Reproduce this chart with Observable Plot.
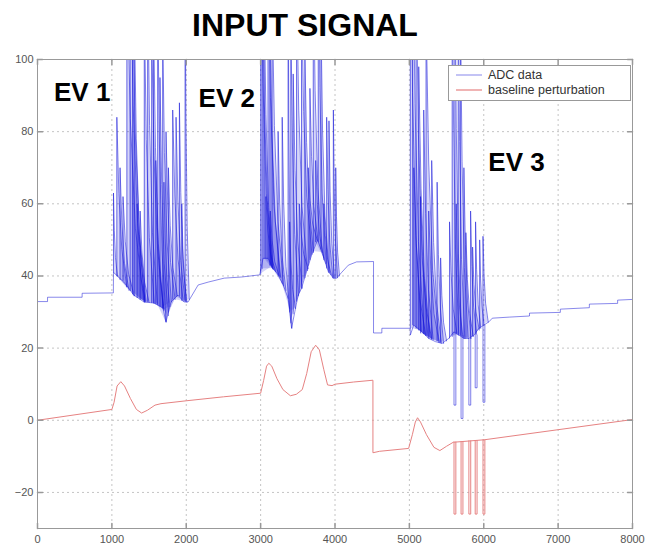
<!DOCTYPE html>
<html><head><meta charset="utf-8">
<script src="https://cdn.jsdelivr.net/npm/d3@7"></script>
<script src="https://cdn.jsdelivr.net/npm/@observablehq/plot@0.6"></script>
<style>body{margin:0;background:#fff} svg{display:block}</style>
</head><body><div id="chart"></div>
<script>
// ---- data ----
const xTicks = [0, 1000, 2000, 3000, 4000, 5000, 6000, 7000, 8000];
const yTicks = [-20, 0, 20, 40, 60, 80, 100];

// ADC data: slow baseline / lower envelope [x, y]
const adcBase = [
  [0, 32.9], [135, 32.9], [135, 34.1], [600, 34.1], [600, 35.2], [1020, 35.3],
  [1022, 41], [1161, 38.3], [1296, 34.7], [1431, 32.8], [1565, 32.5], [1687, 31.1],
  [1727, 27.2], [1795, 32.8], [1889, 34.7], [1970, 32.8], [2025, 32.8], [2160, 37.5],
  [2295, 38.3], [2511, 39.4], [2740, 39.7], [2988, 40.3], [3033, 44.9], [3100, 44.9],
  [3168, 42.1], [3235, 40.3], [3303, 37.5], [3370, 33.8], [3416, 25.5], [3460, 30.1],
  [3505, 34.7], [3550, 36.6], [3618, 41.2], [3685, 45.8], [3766, 50], [3820, 46.8],
  [3865, 44], [3910, 41.2], [3978, 39.4], [4023, 39.4], [4090, 41], [4180, 43],
  [4290, 43.9], [4518, 44], [4518, 24.2], [4630, 24.2], [4630, 25.5], [5012, 25.5],
  [5013, 23.6], [5058, 26.4], [5170, 24.5], [5260, 22.7], [5350, 21.8], [5440, 21.3],
  [5530, 22.7], [5598, 24.5], [5665, 23.6], [5733, 22.7], [5800, 22.7], [5868, 23.6],
  [5935, 25.5], [6003, 26.4], [6070, 27.3], [6115, 28.3], [6350, 28.6], [6615, 28.9],
  [6615, 29.7], [7030, 29.9], [7030, 30.8], [7420, 31.2], [7420, 32.2], [7800, 32.4],
  [7800, 33.3], [8000, 33.5]
];

// ADC pulses: [start x, level before, peak, end x, level after]
const ev1Spikes = [
  [1022, 41, 63, 1075, 40], [1067, 40, 84, 1200, 37], [1110, 39, 70, 1230, 36],
  [1150, 38.8, 62, 1300, 34.5], [1202, 37, 125, 1430, 33], [1246, 36, 132, 1445, 32.8],
  [1278, 35, 118, 1460, 32.8], [1300, 34.5, 115, 1440, 32.8], [1340, 34, 60, 1450, 33],
  [1380, 33.5, 58, 1500, 32.7], [1436, 32.8, 115, 1570, 32.5], [1481, 32.8, 122, 1610, 32.4],
  [1535, 32.6, 108, 1690, 31.1], [1560, 32.5, 112, 1690, 31.1], [1590, 32.3, 72, 1700, 30.8],
  [1616, 32, 118, 1730, 27.2], [1647, 31.6, 95, 1760, 29], [1683, 31.2, 108, 1800, 32.8],
  [1700, 30.5, 66, 1780, 31.5], [1728, 27.5, 80, 1850, 33.5], [1760, 30, 70, 1880, 34.5],
  [1818, 33.5, 86, 1960, 33], [1863, 34.2, 84, 1985, 33], [1908, 34.5, 88, 2000, 32.8],
  [1940, 33.2, 60, 2010, 32.8], [1985, 33, 125, 2040, 33.5]
];
const ev2Spikes = [
  [3001, 40.5, 135, 3150, 42.5], [3020, 42, 128, 3160, 42], [3046, 44.9, 120, 3170, 41.8],
  [3070, 44.9, 62, 3200, 41.3], [3100, 44.9, 130, 3260, 39.8], [3125, 43, 110, 3270, 39.5],
  [3130, 43, 58, 3250, 40], [3154, 42.3, 118, 3310, 37.3], [3235, 40.3, 80, 3340, 36],
  [3290, 38, 84, 3390, 31], [3370, 33.8, 125, 3420, 25.5], [3390, 30, 55, 3470, 31],
  [3406, 27, 112, 3510, 34.5], [3438, 29.5, 96, 3560, 36.6], [3483, 33, 122, 3630, 41.5],
  [3520, 35.5, 60, 3640, 42], [3550, 36.6, 118, 3690, 46], [3595, 39.5, 102, 3710, 46.5],
  [3640, 43, 70, 3760, 50], [3663, 44.5, 92, 3770, 50], [3708, 46.8, 128, 3830, 46.5],
  [3740, 49.5, 72, 3850, 45], [3775, 49.5, 132, 3880, 43.5], [3811, 47.5, 112, 3920, 41],
  [3850, 44.5, 60, 3950, 40.3], [3888, 42.2, 84, 3970, 39.5], [3919, 41, 83, 3995, 39.4],
  [3978, 39.4, 86, 4035, 39.5], [4010, 39.4, 70, 4060, 40]
];
const ev3Spikes = [
  [5013, 25.5, 145, 5160, 24.8], [5044, 26.4, 140, 5200, 24], [5060, 26.4, 70, 5220, 23.5],
  [5090, 25.5, 125, 5250, 23], [5126, 25, 98, 5280, 22.8], [5150, 24.2, 62, 5300, 22.5],
  [5193, 24, 86, 5320, 22.3], [5225, 23.5, 112, 5400, 21.6], [5260, 22.7, 58, 5400, 21.6],
  [5300, 22.5, 72, 5430, 21.4], [5373, 22, 66, 5460, 21.3], [5420, 21.5, 45, 5500, 22],
  [5540, 22.8, 55, 5640, 24], [5576, 23.2, 132, 5665, 23.6], [5612, 24.5, 128, 5705, 23.3],
  [5630, 24.2, 60, 5720, 23], [5657, 23.7, 122, 5745, 22.7], [5688, 23.5, 112, 5790, 22.7],
  [5733, 22.7, 70, 5830, 22.7], [5760, 22.7, 52, 5860, 23.2], [5823, 22.7, 58, 5905, 23.8],
  [5850, 23.4, 48, 5940, 25], [5890, 23.8, 55, 5960, 25.5], [5945, 25.5, 50, 6005, 26.4],
  [5990, 26.4, 51, 6060, 27.2]
];
// pulse decay template: [fraction of duration, fraction of height]
const pulseShape = [[0, 1], [0.2, 0.55], [0.5, 0.22], [1, 0]];
// ADC negative pulses: [x, level, bottom]
const adcDips = [[5600, 24.4, 4.2], [5695, 23.4, 0.5], [5800, 22.7, 4.2], [5885, 23.6, 9], [5990, 26.4, 5]];

// Baseline perturbation [x, y]
const baseline = [
  [0, 0], [1000, 3], [1030, 5], [1070, 9.5], [1120, 10.7], [1170, 9.5], [1250, 6],
  [1330, 3], [1400, 2], [1480, 2.8], [1580, 4.2], [1660, 4.6], [2000, 5.4], [2500, 6.5],
  [3000, 7.5], [3040, 11], [3080, 15], [3110, 15.8], [3150, 15], [3220, 11.5], [3300, 8.5],
  [3400, 6.8], [3480, 7.2], [3560, 8.5], [3620, 13], [3680, 19], [3740, 20.8], [3790, 19.5],
  [3850, 14], [3900, 9.8], [3960, 9.6], [4000, 10], [4250, 10.6], [4510, 11.1], [4510, -9],
  [4600, -8.6], [4990, -7.8], [5040, -4], [5080, -0.5], [5110, 0.7], [5150, -0.5],
  [5230, -4], [5330, -7.5], [5410, -8.4], [5500, -7.2], [5590, -6.1], [6010, -5.4],
  [8000, 0.2]
];
// Baseline negative pulses: [x, level]
const baselineDips = [[5600, -6.0], [5695, -5.9], [5800, -5.7], [5885, -5.6], [5990, -5.4]];
const baselineDipBottom = -26;

const eventLabels = [
  {label: "EV 1", x: 601, y: 90.7},
  {label: "EV 2", x: 2545, y: 89.2},
  {label: "EV 3", x: 6440, y: 71.5}
];
const legendItems = [
  {label: "ADC data", color: "#9a9aee"},
  {label: "baseline perturbation", color: "#e68282"}
];

// ---- build rows ----
const adcRows = adcBase.map(([x, y]) => ({x, y, z: 0}));
const pulseRows = [];
let id = 0;
for (const [x0, y0, p, x1, y1] of [...ev1Spikes, ...ev2Spikes, ...ev3Spikes]) {
  id++;
  pulseRows.push({x: x0, y: y0, lo: y0, z: id});
  for (const [f, h] of pulseShape) {
    const lo = y0 + f * (y1 - y0);
    pulseRows.push({x: x0 + f * (x1 - x0), y: y1 + h * (p - y1), lo, z: id});
  }
}
const pw = 25;
const dipRows = [];
for (const [x, l, b] of adcDips) {
  id++;
  dipRows.push({x, y: l, z: id}, {x, y: b, z: id}, {x: x + pw, y: b, z: id}, {x: x + pw, y: l, z: id});
}
const redRows = baseline.map(([x, y]) => ({x, y, z: 0}));
let rid = 0;
for (const [x, l] of baselineDips) {
  rid++;
  redRows.push({x, y: l, z: rid}, {x, y: baselineDipBottom, z: rid},
               {x: x + pw, y: baselineDipBottom, z: rid}, {x: x + pw, y: l, z: rid});
}

const tickShape = {draw(ctx, l) { ctx.moveTo(0, 0); ctx.lineTo(0, -l); }};
const font = "'Liberation Sans', Arial, Helvetica, sans-serif";
const blue = "#1414d8";

const plot = Plot.plot({
  width: 646, height: 551,
  marginTop: 59, marginLeft: 37, marginRight: 14, marginBottom: 23,
  x: {domain: [0, 8000]},
  y: {domain: [-30, 100]},
  style: {fontFamily: font, fontSize: "11px", background: "#fff", color: "#555"},
  marks: [
    Plot.gridX(xTicks.slice(1, -1), {stroke: "#c4c4c4", strokeOpacity: 1, strokeDasharray: "2,3"}),
    Plot.gridY(yTicks.slice(0, -1), {stroke: "#c4c4c4", strokeOpacity: 1, strokeDasharray: "2,3"}),
    Plot.areaY(pulseRows, {x: "x", y1: "lo", y2: "y", z: "z", fill: blue, fillOpacity: 0.18, clip: true}),
    Plot.line(adcRows, {x: "x", y: "y", z: "z", stroke: blue, strokeOpacity: 0.5, strokeWidth: 1, clip: true}),
    Plot.line(pulseRows, {x: "x", y: "y", z: "z", stroke: blue, strokeOpacity: 0.55, strokeWidth: 1, clip: true}),
    Plot.line(dipRows, {x: "x", y: "y", z: "z", stroke: blue, strokeOpacity: 0.55, strokeWidth: 1, clip: true}),
    Plot.line(redRows, {x: "x", y: "y", z: "z", stroke: "#e68282", strokeWidth: 1, clip: true}),
    Plot.frame({stroke: "#999"}),
    Plot.vector(xTicks, {x: d => d, y: -30, length: 5, rotate: 0, anchor: "start", shape: tickShape, stroke: "#999"}),
    Plot.vector(xTicks, {x: d => d, y: 100, length: 5, rotate: 180, anchor: "start", shape: tickShape, stroke: "#999"}),
    Plot.vector(yTicks, {x: 0, y: d => d, length: 5, rotate: 90, anchor: "start", shape: tickShape, stroke: "#999"}),
    Plot.vector(yTicks, {x: 8000, y: d => d, length: 5, rotate: -90, anchor: "start", shape: tickShape, stroke: "#999"}),
    Plot.axisX(xTicks, {tickSize: 0, tickPadding: 7, tickFormat: d => String(d), fill: "#555", label: null}),
    Plot.axisY(yTicks, {tickSize: 0, tickPadding: 4, tickFormat: d => (d < 0 ? "\u2212" + (-d) : String(d)), fill: "#555", label: null}),
    Plot.text(eventLabels, {x: "x", y: "y", text: "label", fontSize: 26, fontWeight: "bold", fill: "#000", fontFamily: font})
  ]
});
document.getElementById("chart").appendChild(plot);

// title and legend
const svg = d3.select(plot);
svg.append("text").attr("x", 305).attr("y", 36).attr("text-anchor", "middle")
  .attr("font-family", font).attr("font-size", 32).attr("font-weight", "bold").attr("fill", "#000")
  .text("INPUT SIGNAL");
const lg = svg.append("g");
lg.append("rect").attr("x", 448.5).attr("y", 65.5).attr("width", 182).attr("height", 35)
  .attr("fill", "#fff").attr("stroke", "#999");
legendItems.forEach((d, i) => {
  const y = 75 + i * 15;
  lg.append("line").attr("x1", 456).attr("x2", 482).attr("y1", y).attr("y2", y).attr("stroke", d.color).attr("stroke-width", 1.2);
  lg.append("text").attr("x", 488).attr("y", y + 4).attr("text-anchor", "start").attr("font-family", font)
    .attr("font-size", 12.5).attr("fill", "#333").text(d.label);
});
</script></body></html>
